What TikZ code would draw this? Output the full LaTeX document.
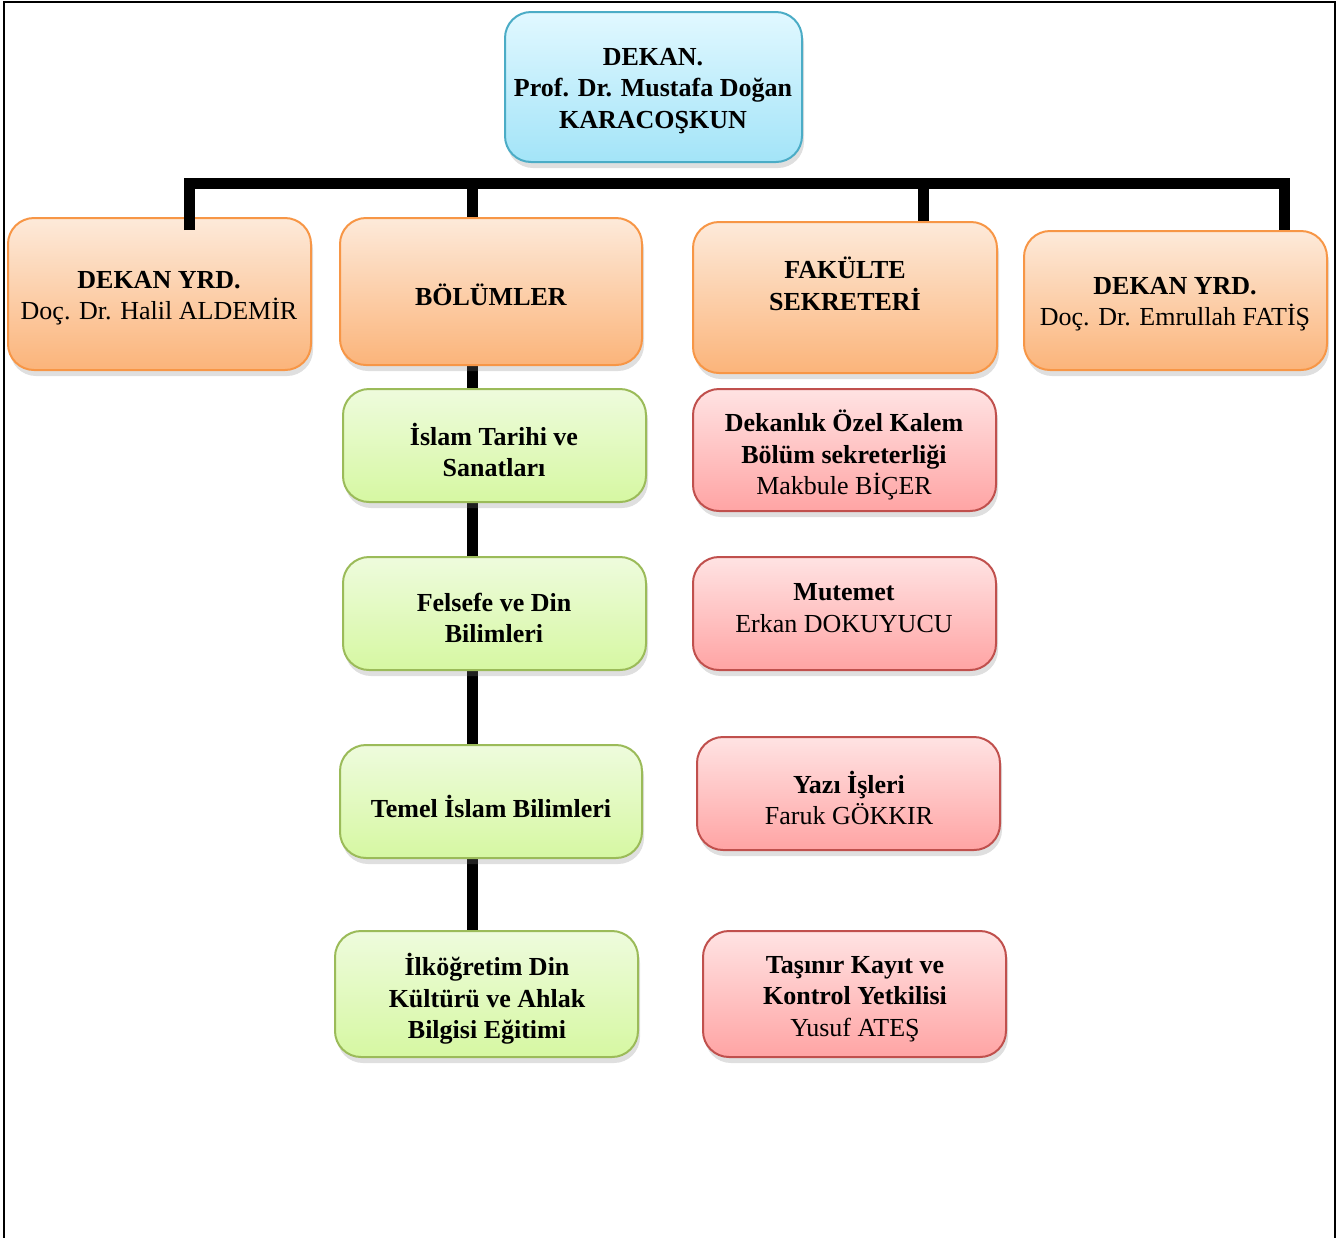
\documentclass[tikz,border=0pt]{standalone}
\usepackage{fontspec}
\setmainfont{Liberation Serif}
\usetikzlibrary{shadows,calc}
\definecolor{bluetop}{HTML}{E1F8FF}
\definecolor{bluebot}{HTML}{A3E4F8}
\definecolor{blueline}{HTML}{4BACC6}
\definecolor{orgtop}{HTML}{FDEADA}
\definecolor{orgbot}{HTML}{FBB47A}
\definecolor{orgline}{HTML}{F79646}
\definecolor{grntop}{HTML}{EEFBDD}
\definecolor{grnbot}{HTML}{D6F8A2}
\definecolor{grnline}{HTML}{9BBB59}
\definecolor{redtop}{HTML}{FFE3E3}
\definecolor{redbot}{HTML}{FFA4A4}
\definecolor{redline}{HTML}{C0504D}
\begin{document}
\begin{tikzpicture}[x=0.5pt,y=-0.5pt,
  box/.style={draw, line width=1pt, rounded corners=13pt, inner sep=0pt,
    drop shadow={opacity=0.25, shadow xshift=1pt, shadow yshift=-3pt}},
  bbox/.style={box, draw=blueline, top color=bluetop, bottom color=bluebot},
  obox/.style={box, draw=orgline, top color=orgtop, bottom color=orgbot},
  gbox/.style={box, draw=grnline, top color=grntop, bottom color=grnbot},
  rbox/.style={box, draw=redline, top color=redtop, bottom color=redbot},
  txt/.style={align=center, inner sep=0pt, font=\fontsize{13}{15.75}\selectfont},
  bar/.style={line width=5.5pt, line join=miter, line cap=butt}]
\useasboundingbox (0,0) rectangle (1340,1238);
\draw[line width=1pt] (4,1238) -- (4,2) -- (1335,2) -- (1335,1238);

% chain behind the green boxes
\coordinate (c1) at (472.5,360);
\coordinate (c2) at (472.5,935);
\draw[bar] (c1) -- (c2);

% boxes
\node[bbox, minimum width=148.5pt, minimum height=75pt] (dekan) at (653.5,87) {};
\node[obox, minimum width=151.5pt, minimum height=76pt] (yrd1) at (159.5,294) {};
\node[obox, minimum width=151pt, minimum height=73.5pt] (bolum) at (491,291.5) {};
\node[obox, minimum width=152pt, minimum height=75.5pt] (fak) at (845,297.5) {};
\node[obox, minimum width=151.5pt, minimum height=69.5pt] (yrd2) at (1175.5,300.5) {};
\node[gbox, minimum width=151.5pt, minimum height=56.5pt] (g1) at (494.5,445.5) {};
\node[gbox, minimum width=151.5pt, minimum height=56.5pt] (g2) at (494.5,613.5) {};
\node[gbox, minimum width=151pt, minimum height=56.5pt] (g3) at (491,801.5) {};
\node[gbox, minimum width=151.5pt, minimum height=63pt] (g4) at (486.5,994) {};
\node[rbox, minimum width=151.5pt, minimum height=61pt] (r1) at (844.5,450) {};
\node[rbox, minimum width=151.5pt, minimum height=56.5pt] (r2) at (844.5,613.5) {};
\node[rbox, minimum width=151.5pt, minimum height=56.5pt] (r3) at (848.5,793.5) {};
\node[rbox, minimum width=151.5pt, minimum height=63pt] (r4) at (854.5,994) {};

% texts
\node[txt] (tdekan) at (653,91) {\textbf{DEKAN.}\\\textbf{Prof. Dr. Mustafa Doğan}\\\textbf{KARACOŞKUN}};
\node[txt] (tyrd1) at (159,298) {\textbf{DEKAN YRD.}\\Doç. Dr. Halil ALDEMİR};
\node[txt] (tbolum) at (491,295) {\textbf{BÖLÜMLER}};
\node[txt] (tfak) at (845,284) {\textbf{FAKÜLTE}\\\textbf{SEKRETERİ}};
\node[txt] (tyrd2) at (1175,304) {\textbf{DEKAN YRD.}\\Doç. Dr. Emrullah FATİŞ};
\node[txt] (tg1) at (494,450) {\textbf{İslam Tarihi ve}\\\textbf{Sanatları}};
\node[txt] (tg2) at (494,618) {\textbf{Felsefe ve Din}\\\textbf{Bilimleri}};
\node[txt] (tg3) at (491,806) {\textbf{Temel İslam Bilimleri}};
\node[txt] (tg4) at (487,999) {\textbf{İlköğretim Din}\\\textbf{Kültürü ve Ahlak}\\\textbf{Bilgisi Eğitimi}};
\node[txt] (tr1) at (844,455) {\textbf{Dekanlık Özel Kalem}\\\textbf{Bölüm sekreterliği}\\Makbule BİÇER};
\node[txt] (tr2) at (844,608) {\textbf{Mutemet}\\Erkan DOKUYUCU};
\node[txt] (tr3) at (849,798) {\textbf{Yazı İşleri}\\Faruk GÖKKIR};
\node[txt] (tr4) at (855,999) {\textbf{Taşınır Kayıt ve}\\\textbf{Kontrol Yetkilisi}\\Yusuf ATEŞ};

% main bar
\coordinate (barL) at (189,183.5);
\coordinate (barR) at (1284,183.5);
\coordinate (endL) at (189,230);
\coordinate (endR) at (1284,230);
\draw[bar] (endL) -- (barL) -- (barR) -- (endR);
\draw[bar] (barL -| 472.5,0) -- (bolum.north -| c1);
\draw[bar] (barL -| 923.5,0) -- (fak.north -| 923.5,0);
\end{tikzpicture}
\end{document}
